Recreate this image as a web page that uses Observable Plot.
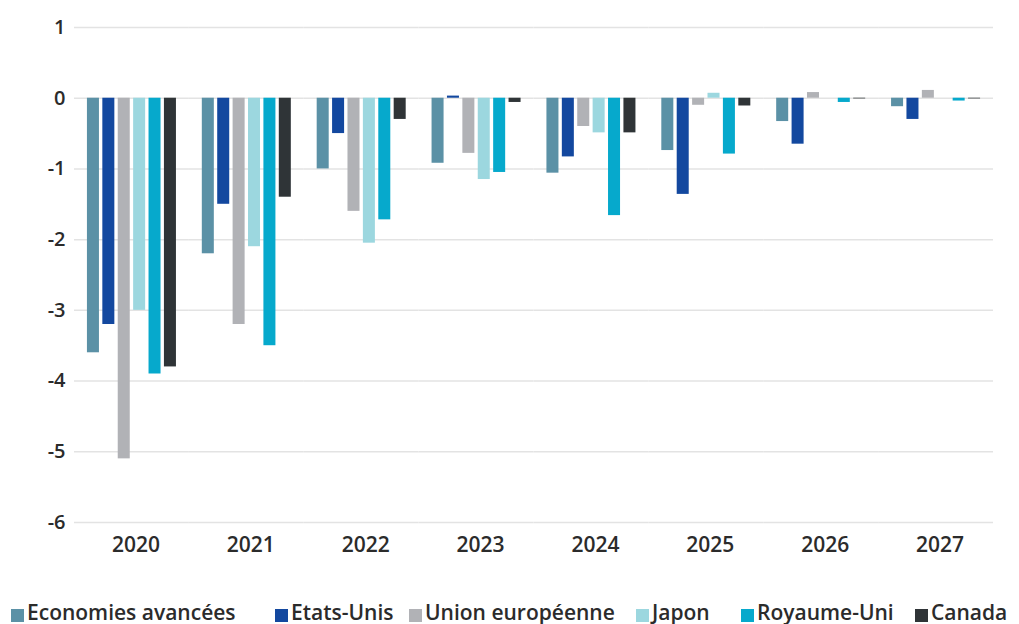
<!DOCTYPE html>
<html>
<head>
<meta charset="utf-8">
<script src="https://cdn.jsdelivr.net/npm/d3@7"></script>
<script src="https://cdn.jsdelivr.net/npm/@observablehq/plot@0.6"></script>
<style>
  html, body { margin: 0; padding: 0; background: #fff; }
  body { position: relative; width: 1019px; height: 624px; overflow: hidden; font-family: "Open Sans", sans-serif; }
  #chart svg { display: block; }
  #chart g[aria-label^="y-axis"] text { font-size: 20px; font-weight: 600; fill: #2b2b2b; }
  #chart g[aria-label^="fx-axis"] text { font-size: 21px; font-weight: 600; fill: #2b2b2b; }
  #legend { position: absolute; left: 0; top: 601px; width: 1019px; height: 22px; white-space: nowrap;
            font-family: "Open Sans", sans-serif; font-weight: 600; font-size: 21px; line-height: 22px; color: #2b2b2b; }
  #legend .item { position: absolute; top: 0; display: flex; align-items: center; height: 22px; }
  #legend .sw { width: 13px; height: 13px; margin-right: 3px; margin-top: 6px; }
</style>
</head>
<body>
<div id="chart"></div>
<div id="legend"></div>
<script>
const years = ["2020", "2021", "2022", "2023", "2024", "2025", "2026", "2027"];
const series = ["Economies avancées", "Etats-Unis", "Union européenne", "Japon", "Royaume-Uni", "Canada"];
const colors = ["#5b91a6", "#13489f", "#b1b2b6", "#9cd7df", "#06a9cc", "#2f3437"];

const economiesAvancees = [-3.6, -2.2, -1.0, -0.92, -1.06, -0.74, -0.33, -0.12];
const etatsUnis        = [-3.2, -1.5, -0.5, 0.03, -0.83, -1.36, -0.65, -0.3];
const unionEuropeenne  = [-5.1, -3.2, -1.6, -0.78, -0.4, -0.1, 0.08, 0.11];
const japon            = [-3.0, -2.1, -2.05, -1.15, -0.49, 0.07, 0, 0];
const royaumeUni       = [-3.9, -3.5, -1.72, -1.05, -1.66, -0.79, -0.06, -0.04];
const canada           = [-3.8, -1.4, -0.3, -0.06, -0.49, -0.11, -0.01, -0.01];

const yTicks = [1, 0, -1, -2, -3, -4, -5, -6];

// legend layout (left offsets of each legend entry, in px)
const legendLeft = [11, 275, 409, 636, 741, 915];

const valuesBySeries = [economiesAvancees, etatsUnis, unionEuropeenne, japon, royaumeUni, canada];
const data = [];
years.forEach((yr, i) => {
  series.forEach((s, j) => {
    data.push({year: yr, series: s, value: valuesBySeries[j][i]});
  });
});

const chart = Plot.plot({
  width: 1019,
  height: 560,
  marginLeft: 74,
  marginRight: 26,
  marginTop: 27,
  marginBottom: 38,
  style: {fontFamily: "'Open Sans', sans-serif", background: "white", overflow: "visible"},
  fx: {domain: years, padding: 0, round: false, axis: "bottom", tickSize: 0, tickPadding: 15, label: null},
  x: {domain: series, axis: null, round: false, paddingInner: 0.22, paddingOuter: 0.84},
  y: {domain: [-6, 1], ticks: yTicks, tickSize: 0, tickPadding: 9, label: null, tickFormat: d => String(d)},
  color: {domain: series, range: colors},
  facet: {data: data, x: "year"},
  marks: [
    Plot.ruleY(yTicks, {stroke: "#e3e3e3", strokeWidth: 1.5}),
    Plot.barY(data, {x: "series", y: "value", fill: "series"})
  ]
});
document.getElementById("chart").appendChild(chart);

// nudge year labels slightly to the right, as in the reference
d3.select(chart).selectAll('g[aria-label^="fx-axis"] text').each(function() {
  const cur = parseFloat(this.getAttribute("dx")) || 0;
  this.setAttribute("dx", cur + 4);
});

const legend = document.getElementById("legend");
series.forEach((s, i) => {
  const item = document.createElement("div");
  item.className = "item";
  item.style.left = legendLeft[i] + "px";
  const sw = document.createElement("span");
  sw.className = "sw";
  sw.style.background = colors[i];
  const t = document.createElement("span");
  t.textContent = s;
  item.appendChild(sw);
  item.appendChild(t);
  legend.appendChild(item);
});
</script>
</body>
</html>
